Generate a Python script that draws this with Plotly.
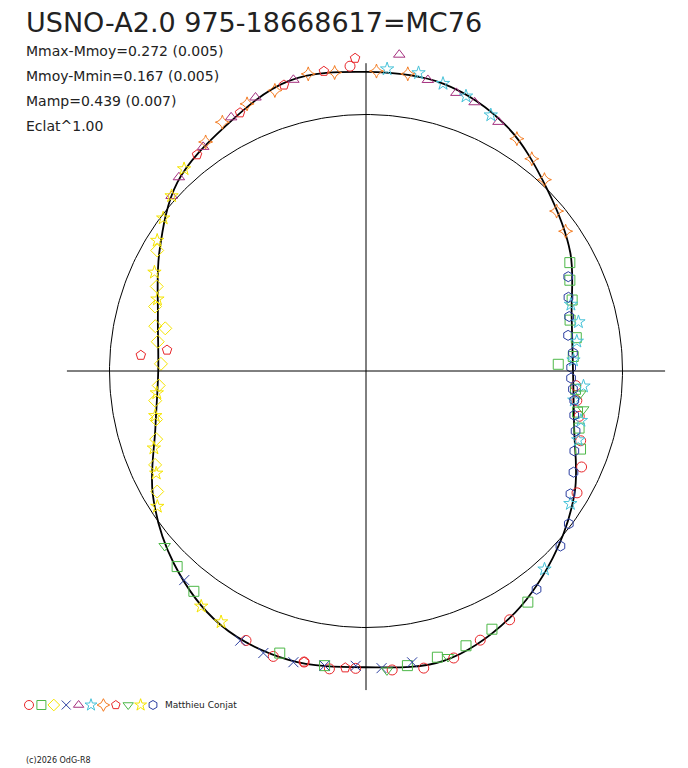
import plotly.graph_objects as go
import numpy as np

# mean light curve: phase angle (deg) -> radius (unit = reference circle)
curve_ang = [0, 15, 30, 45, 60, 75, 90, 105, 120, 135, 150, 165, 180, 195, 210, 225, 240, 255, 270, 285, 300, 315, 330, 345]
curve_rad = [0.807, 0.83, 0.92, 1.0, 1.10, 1.16, 1.166, 1.17, 1.10, 1.04, 0.93, 0.84, 0.81, 0.85, 0.96, 1.06, 1.14, 1.166, 1.155, 1.17, 1.115, 1.03, 0.94, 0.84]

# observation series: (symbol, colour, angles, radii)
series = [
    ("circle-open", "#e8262a",
     [246, 252, 258, 263, 268, 275, 281, 287, 293, 300, 330, 336, 342, 348, 352, 356, 93],
     [1.15, 1.17, 1.16, 1.17, 1.16, 1.17, 1.18, 1.17, 1.14, 1.12, 0.95, 0.92, 0.88, 0.85, 0.83, 0.82, 1.19]),
    ("square-open", "#4db848",
     [4, 9, 14, 19, 24, 28, 2, 340, 345, 349, 355, 253, 262, 278, 284, 290, 296, 305, 226, 232],
     [0.81, 0.83, 0.82, 0.85, 0.87, 0.90, 0.75, 0.89, 0.86, 0.84, 0.82, 1.15, 1.16, 1.16, 1.15, 1.14, 1.12, 1.10, 1.06, 1.09]),
    ("diamond-open", "#f5e400",
     [150, 158, 163, 168, 172, 178, 184, 188, 193, 198, 204, 210, 168],
     [0.94, 0.88, 0.86, 0.84, 0.82, 0.80, 0.81, 0.83, 0.84, 0.86, 0.90, 0.94, 0.80]),
    ("x-thin-open", "#2b3ea0",
     [245, 250, 256, 262, 268, 273, 279, 229],
     [1.16, 1.17, 1.17, 1.16, 1.15, 1.16, 1.15, 1.08]),
    ("triangle-up-open", "#a5307f",
     [62, 68, 72, 78, 84, 104, 112, 118, 126, 134, 138],
     [1.10, 1.13, 1.14, 1.16, 1.24, 1.17, 1.15, 1.12, 1.08, 1.05, 1.02]),
    ("star-open", "#46c2d8",
     [64, 70, 75, 80, 86, 3, 8, 13, 18, 342, 347, 352, 356, 327, 312],
     [1.11, 1.14, 1.16, 1.18, 1.18, 0.81, 0.83, 0.85, 0.84, 0.87, 0.86, 0.82, 0.85, 0.95, 1.04]),
    ("star-diamond-open", "#f47b20",
     [82, 88, 96, 101, 108, 114, 120, 125, 35, 40, 47, 52, 57],
     [1.17, 1.17, 1.17, 1.18, 1.15, 1.14, 1.12, 1.09, 0.95, 0.97, 1.02, 1.05, 1.08]),
    ("pentagon-open", "#e8262a",
     [92, 98, 106, 116, 128, 176, 174, 258, 266],
     [1.22, 1.18, 1.16, 1.12, 1.07, 0.88, 0.78, 1.16, 1.16]),
    ("triangle-down-open", "#4db848",
     [350, 354, 274, 286, 221],
     [0.86, 0.84, 1.17, 1.16, 1.04]),
    ("star-open", "#f5e400",
     [132, 138, 143, 148, 155, 161, 186, 192, 200, 206, 213, 235, 240],
     [1.06, 1.02, 0.99, 0.96, 0.91, 0.86, 0.82, 0.84, 0.88, 0.91, 0.97, 1.12, 1.13]),
    ("hexagon-open", "#2b3ea0",
     [1, 5, 10, 15, 20, 25, 358, 355, 352, 348, 344, 339, 334, 329, 323, 318, 308],
     [0.80, 0.81, 0.80, 0.82, 0.84, 0.87, 0.80, 0.81, 0.82, 0.83, 0.85, 0.87, 0.90, 0.93, 0.99, 1.02, 1.08]),
]

title = "USNO-A2.0 975-18668617=MC76"
stats = ["Mmax-Mmoy=0.272 (0.005)", "Mmoy-Mmin=0.167 (0.005)", "Mamp=0.439 (0.007)", "Eclat^1.00"]

fig = go.Figure()

# reference circle
t = np.linspace(0, 2 * np.pi, 361)
fig.add_trace(go.Scatter(x=np.cos(t), y=np.sin(t), mode="lines",
                         line=dict(color="black", width=1), hoverinfo="skip"))

# mean curve, closed
ca = np.radians(curve_ang + [360])
cr = np.array(curve_rad + [curve_rad[0]])
fig.add_trace(go.Scatter(x=cr * np.cos(ca), y=cr * np.sin(ca), mode="lines",
                         line=dict(color="black", width=1.8, shape="spline", smoothing=1.0),
                         hoverinfo="skip"))

for sym, col, ang, rad in series:
    a = np.radians(ang)
    r = np.array(rad)
    fig.add_trace(go.Scatter(x=r * np.cos(a), y=r * np.sin(a), mode="markers",
                             marker=dict(symbol=sym, size=10, color=col, line=dict(color=col, width=1))))

# legend row on a pixel axis (page pixels)
lx = [29 + 12.4 * i for i in range(len(series))]
for (sym, col, _, _), x in zip(series, lx):
    fig.add_trace(go.Scatter(x=[x], y=[705], mode="markers", xaxis="x2", yaxis="y2",
                             marker=dict(symbol=sym, size=9, color=col, line=dict(color=col, width=1))))

fig.add_shape(type="line", x0=-1.166, x1=1.166, y0=0, y1=0, line=dict(color="black", width=1))
fig.add_shape(type="line", x0=0, x1=0, y0=1.2, y1=-1.244, line=dict(color="black", width=1))

fig.add_annotation(x=24, y=22, xref="x2", yref="y2", text=title, showarrow=False, xanchor="left",
                   font=dict(family="DejaVu Sans", size=27, color="#222"))
for i, s in enumerate(stats):
    fig.add_annotation(x=24, y=51 + 25 * i, xref="x2", yref="y2", text=s, showarrow=False, xanchor="left",
                       font=dict(family="DejaVu Sans", size=14, color="#222"))
fig.add_annotation(x=163, y=705, xref="x2", yref="y2", text="Matthieu Conjat", showarrow=False, xanchor="left",
                   font=dict(family="DejaVu Sans", size=9, color="#222"))
fig.add_annotation(x=24, y=760, xref="x2", yref="y2", text="(c)2026 OdG-R8", showarrow=False, xanchor="left",
                   font=dict(family="DejaVu Sans", size=8, color="#222"))

# page body has an 8px margin: centre at page pixel (366, 371)
U = 256.5
cx, cy, off = 366 - 8, 371 - 8, 8
fig.update_layout(
    width=688, height=768, margin=dict(l=0, r=0, t=0, b=0),
    paper_bgcolor="white", plot_bgcolor="white", showlegend=False,
    xaxis=dict(range=[-cx / U, (688 - cx) / U], visible=False),
    yaxis=dict(range=[-(768 - cy) / U, cy / U], visible=False),
    xaxis2=dict(range=[off, 688 + off], visible=False, overlaying="x"),
    yaxis2=dict(range=[768 + off, off], visible=False, overlaying="y"),
)
fig.write_html("out.html")
